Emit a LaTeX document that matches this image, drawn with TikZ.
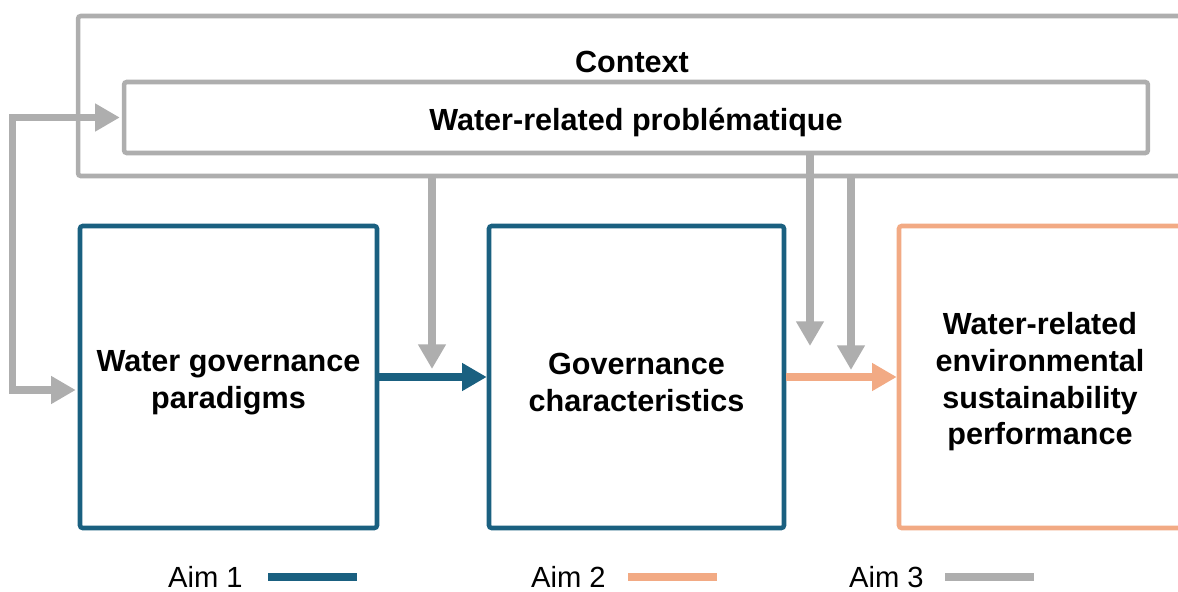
\documentclass[tikz,border=0pt]{standalone}
\usepackage{fontspec}
\setmainfont{Liberation Sans}
\usepackage{xcolor}
\usepackage{tikz}
\usetikzlibrary{arrows.meta,positioning,calc}

\definecolor{aimblue}{RGB}{26,96,128}
\definecolor{aimorange}{RGB}{242,170,132}
\definecolor{aimgray}{RGB}{174,174,174}

\newcommand{\lift}{\rule{0pt}{18pt}}

\begin{document}
\begin{tikzpicture}[x=0.02cm, y=-0.02cm,
    box/.style={draw, line width=2.6pt, rounded corners=1.5pt, align=center, inner sep=0pt,
        font=\bfseries\fontsize{17.4}{21}\selectfont},
    flow/.style={line width=4.2pt, -{Triangle[length=14pt,width=15pt]}},
    loopflow/.style={line width=4.2pt, line join=miter,
        {Triangle[length=14pt,width=15pt]}-{Triangle[length=14pt,width=15pt]}},
    legtext/.style={inner sep=0pt, font=\fontsize{16.6}{20}\selectfont}]
    \useasboundingbox (0,0) rectangle (1178,592);
    \clip (0,0) rectangle (1178,592);

    % Context frame and problematique
    \node[box, draw=aimgray, minimum width=22.44cm, minimum height=3.2cm] (ctx) at (639,96) {};
    \node[inner sep=0pt, font=\bfseries\fontsize{17.4}{21}\selectfont] (ctxlabel) at (632,62) {Context};
    \node[box, draw=aimgray, minimum width=20.48cm, minimum height=1.42cm] (prob) at (636,117.5)
        {\lift Water-related problématique};

    % The three boxes
    \node[box, draw=aimblue, minimum width=5.94cm, minimum height=6.04cm] (govpar) at (228.5,377)
        {\lift Water governance\\paradigms};
    \node[box, draw=aimblue, minimum width=5.9cm, minimum height=6.04cm] (govchar) at (636.5,377)
        {\lift Governance\\characteristics};
    \node[box, draw=aimorange, minimum width=5.64cm, minimum height=6.04cm] (perf) at (1040,377)
        {\lift Water-related\\environmental\\sustainability\\performance};

    % Links between the boxes
    \draw[flow, aimblue] (govpar.east) -- (govchar.west);
    \draw[flow, aimorange] (govchar.east) -- (perf.west);

    % Context feeding in
    \coordinate (in1) at (432,369);
    \coordinate (in2) at (810,346);
    \coordinate (in3) at (851,370);
    \draw[flow, aimgray] (ctx.south -| in1) -- (in1);
    \draw[flow, aimgray] (prob.south -| in2) -- (in2);
    \draw[flow, aimgray] (ctx.south -| in3) -- (in3);

    % Feedback loop
    \draw[loopflow, aimgray] ($(govpar.west)+(-2,13)$) -- ++(-63,0) |- ($(prob.west)+(-2,0)$);

    % Legend
    \foreach \n/\c/\x/\l in {1/aimblue/243/268, 2/aimorange/606/628, 3/aimgray/924/945} {
        \node[legtext, anchor=east] (aim\n) at (\x,577) {Aim \n};
        \draw[line width=4.5pt, \c] (aim\n.east -| \l,0) -- ++(89,0);
    }
\end{tikzpicture}
\end{document}
